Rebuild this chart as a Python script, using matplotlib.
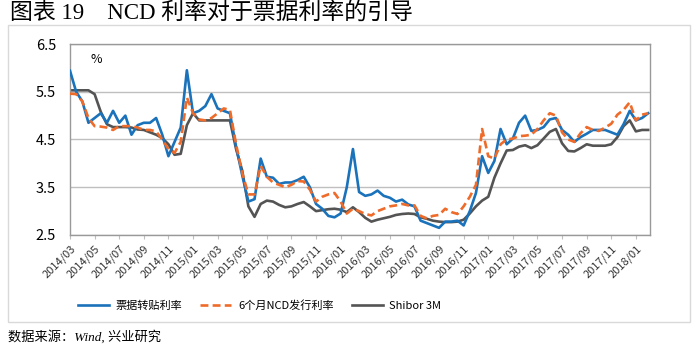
import numpy as np
import pandas as pd
import matplotlib
matplotlib.use('Agg')
import matplotlib.pyplot as plt
from matplotlib.patches import Rectangle

plt.rcParams['font.family'] = ['Noto Sans CJK SC', 'DejaVu Sans']

# --- semi-monthly dates, 2014/03 .. 2018/02 ---
dates = pd.date_range('2014-03-01', periods=95, freq='SMS')

# --- 票据转贴利率 ---
bill = [5.94, 5.50, 5.30, 4.85, 4.95, 5.05, 4.85, 5.10, 4.85, 5.00,
        4.60, 4.80, 4.85, 4.85, 4.95, 4.60, 4.15, 4.45, 4.75, 5.95,
        5.05, 5.10, 5.20, 5.45, 5.15, 5.10, 5.05, 4.35, 3.75, 3.20,
        3.25, 4.10, 3.72, 3.70, 3.57, 3.60, 3.60, 3.65, 3.72, 3.50,
        3.15, 3.05, 2.90, 2.87, 2.95, 3.50, 4.30, 3.40, 3.32, 3.35,
        3.43, 3.32, 3.28, 3.20, 3.24, 3.14, 3.10, 2.80, 2.75, 2.70,
        2.65, 2.78, 2.78, 2.80, 2.70, 3.00, 3.38, 4.15, 3.80, 4.05,
        4.72, 4.40, 4.52, 4.85, 5.00, 4.68, 4.70, 4.76, 4.92, 4.95,
        4.70, 4.60, 4.45, 4.55, 4.62, 4.70, 4.70, 4.70, 4.65, 4.60,
        4.82, 5.10, 4.90, 4.95, 5.05]

# --- 6个月NCD发行利率 ---
ncd = [5.46, 5.45, 5.30, 4.95, 4.78, 4.77, 4.75, 4.70, 4.78, 4.78,
       4.78, 4.75, 4.70, 4.70, 4.67, 4.50, 4.30, 4.22, 4.45, 5.38,
       5.05, 4.92, 4.90, 4.95, 5.05, 5.15, 5.12, 4.40, 3.80, 3.35,
       3.35, 3.95, 3.72, 3.60, 3.55, 3.50, 3.55, 3.63, 3.62, 3.45,
       3.20, 3.30, 3.35, 3.38, 3.20, 2.95, 3.05, 3.00, 2.94, 2.91,
       3.00, 3.05, 3.10, 3.12, 3.15, 3.12, 3.12, 2.90, 2.85, 2.90,
       2.92, 3.05, 2.98, 2.94, 3.10, 3.30, 3.55, 4.72, 4.15, 4.10,
       4.40, 4.50, 4.52, 4.57, 4.58, 4.60, 4.72, 4.90, 5.05, 5.00,
       4.65, 4.50, 4.45, 4.63, 4.76, 4.70, 4.68, 4.75, 4.83, 5.02,
       5.12, 5.28, 4.90, 5.02, 5.05]

# --- Shibor 3M ---
shibor = [5.53, 5.53, 5.53, 5.53, 5.45, 5.08, 4.82, 4.76, 4.76, 4.76,
          4.75, 4.71, 4.70, 4.65, 4.60, 4.53, 4.40, 4.18, 4.20, 4.80,
          5.05, 4.90, 4.90, 4.90, 4.90, 4.90, 4.90, 4.30, 3.85, 3.10,
          2.88, 3.15, 3.22, 3.20, 3.13, 3.08, 3.10, 3.15, 3.19, 3.10,
          3.00, 3.02, 3.04, 3.05, 3.03, 2.98, 3.08, 2.98, 2.86, 2.78,
          2.82, 2.85, 2.88, 2.92, 2.94, 2.95, 2.94, 2.87, 2.84, 2.80,
          2.78, 2.77, 2.77, 2.78, 2.82, 2.95, 3.10, 3.22, 3.30, 3.70,
          4.00, 4.27, 4.28, 4.35, 4.38, 4.32, 4.38, 4.52, 4.66, 4.72,
          4.42, 4.26, 4.25, 4.32, 4.40, 4.37, 4.37, 4.37, 4.40, 4.55,
          4.78, 4.90, 4.67, 4.70, 4.70]

yticks = [2.5, 3.5, 4.5, 5.5, 6.5]

x = np.arange(len(dates))
tick_idx = x[::4][:24]
tick_labels = [dates[i].strftime('%Y/%m') for i in tick_idx]

fig = plt.figure(figsize=(7.0, 3.52), dpi=100)
ax = fig.add_axes([0.1, 0.3324, 0.8286, 0.5426])

# --- outer light frame ---
fig.patches.append(Rectangle((0.012, 0.085), 0.973, 0.843, transform=fig.transFigure,
                             fill=False, edgecolor='#d9d9d9', linewidth=1.0))

ax.plot(x, bill, color='#1a72bb', linewidth=1.9, label='票据转贴利率', zorder=3)
ax.plot(x, ncd, color='#ee6b2a', linewidth=1.9, linestyle=(0, (3, 1.6)),
        label='6个月NCD发行利率', zorder=4)
ax.plot(x, shibor, color='#545454', linewidth=1.9, label='Shibor 3M', zorder=2)

ax.set_ylim(2.5, 6.5)
ax.set_xlim(0, 94.3)
ax.set_yticks(yticks)
ax.set_yticklabels([f'{v:.1f}' for v in yticks], fontsize=10.5)
ax.set_xticks(tick_idx)
ax.set_xticklabels(tick_labels, rotation=45, ha='right', rotation_mode='anchor',
                   fontsize=8, color='#333333')
ax.tick_params(axis='y', length=0, pad=10)
ax.tick_params(axis='x', length=3, color='#bfbfbf', pad=3)
ax.grid(axis='y', color='#bfbfbf', linewidth=1.0)
for s in ax.spines.values():
    s.set_color('#999999')
    s.set_linewidth(1.0)

ax.text(0.035, 0.92, '%', transform=ax.transAxes, fontsize=9, va='center')

fig.legend(loc='center', bbox_to_anchor=(0.371, 0.131), ncol=3, frameon=False,
           fontsize=8, handlelength=2.8, columnspacing=1.6, handletextpad=0.6)

fig.text(0.015, 0.962, '图表 19    NCD 利率对于票据利率的引导', fontsize=16.5,
         va='center', ha='left', family=['Liberation Serif', 'Noto Sans CJK SC'])
fig.text(0.012, 0.042, '数据来源：Wind, 兴业研究', fontsize=9.5, style='italic',
         va='center', ha='left', family=['Liberation Serif', 'Noto Sans CJK SC'])

fig.savefig('out.png', dpi=100)
